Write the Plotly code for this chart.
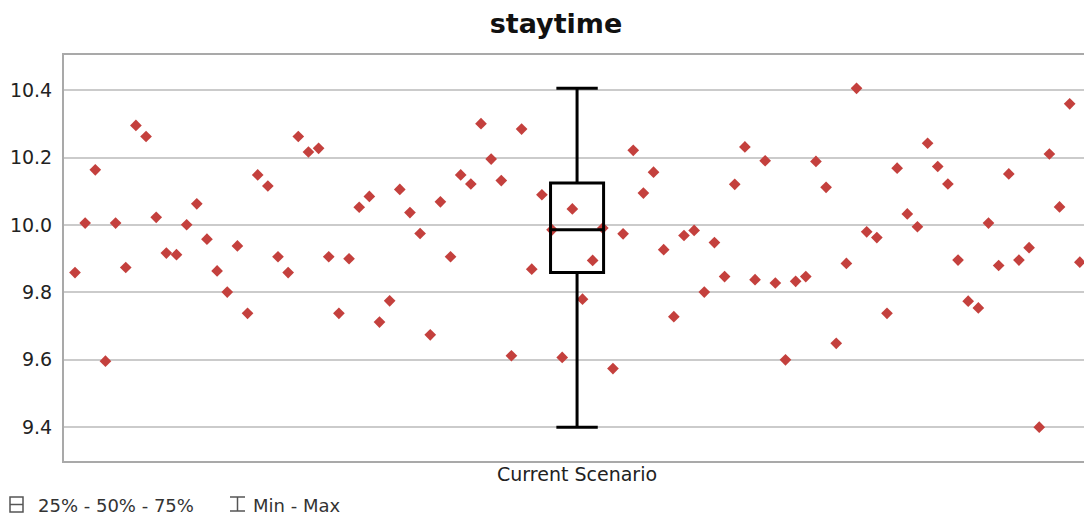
import plotly.graph_objects as go

# ---- data -------------------------------------------------------------
chart_title = "staytime"
scenario = ["Current Scenario"]

# staytime observed in each replication, in run order
staytime = [9.859, 10.006, 10.164, 9.596, 10.006, 9.874, 10.296, 10.263, 10.023, 9.917,
            9.912, 10.001, 10.063, 9.958, 9.864, 9.801, 9.938, 9.738, 10.149, 10.116,
            9.906, 9.859, 10.263, 10.217, 10.228, 9.906, 9.738, 9.900, 10.053, 10.085,
            9.712, 9.775, 10.106, 10.037, 9.975, 9.674, 10.069, 9.906, 10.149, 10.122,
            10.301, 10.196, 10.132, 9.612, 10.285, 9.869, 10.090, 9.986, 9.607, 10.048,
            9.780, 9.895, 9.991, 9.574, 9.974, 10.222, 10.095, 10.157, 9.927, 9.728,
            9.969, 9.984, 9.801, 9.948, 9.847, 10.121, 10.232, 9.838, 10.191, 9.828,
            9.600, 9.833, 9.847, 10.189, 10.112, 9.649, 9.886, 10.406, 9.980, 9.963,
            9.738, 10.169, 10.033, 9.995, 10.243, 10.174, 10.122, 9.896, 9.774, 9.754,
            10.006, 9.880, 10.152, 9.896, 9.933, 9.400, 10.211, 10.054, 10.360, 9.890]
run_index = list(range(1, len(staytime) + 1))

# box summary: 25% / 50% / 75% and min / max
box_q1 = [9.859]
box_median = [9.986]
box_q3 = [10.125]
box_min = [9.400]
box_max = [10.406]

y_ticks = [9.4, 9.6, 9.8, 10.0, 10.2, 10.4]
legend_labels = ["25% - 50% - 75%", "Min - Max"]

# ---- geometry ---------------------------------------------------------
W, H = 1084, 515
ML, MR, MT, MB = 64, 0, 55, 54
PW, PH = W - ML - MR, H - MT - MB


def px(x):
    return (x - ML) / PW


def py(y):
    return (H - MB - y) / PH


FONT = "DejaVu Sans"
FRAME = "#a9a9a9"
GRID = "#cbcbcb"

fig = go.Figure()

fig.add_trace(go.Scatter(
    x=run_index, y=staytime, mode="markers",
    marker=dict(symbol="diamond", size=9, color="#c4403d", line=dict(width=0)),
    xaxis="x", yaxis="y", hoverinfo="y", showlegend=False,
))

fig.add_trace(go.Box(
    x=scenario, q1=box_q1, median=box_median, q3=box_q3,
    lowerfence=box_min, upperfence=box_max,
    xaxis="x2", yaxis="y",
    fillcolor="rgba(0,0,0,0)", line=dict(color="black", width=3),
    width=0.052, whiskerwidth=0.78, boxpoints=False, showlegend=False,
))

fig.update_layout(
    width=W, height=H,
    margin=dict(l=ML, r=MR, t=MT, b=MB, pad=0),
    paper_bgcolor="white", plot_bgcolor="white",
    font=dict(family=FONT, color="#222222"),
    showlegend=False,
    title=dict(text="<b>%s</b>" % chart_title, font=dict(family=FONT, size=27, color="#111111"),
               x=556 / W, xanchor="center", xref="container",
               y=1 - 24 / H, yanchor="middle", yref="container"),
    xaxis=dict(range=[-0.084, 100.41], showticklabels=False, showgrid=False,
               zeroline=False, showline=True, linecolor=FRAME, linewidth=2, mirror=True,
               ticks=""),
    xaxis2=dict(overlaying="x", side="bottom", type="category", range=[-0.503, 0.497],
                showgrid=False, zeroline=False, showline=False, ticks="",
                tickfont=dict(family=FONT, size=19, color="#222222")),
    yaxis=dict(range=[9.2995, 10.505], tickvals=y_ticks, tickformat=".1f",
               showgrid=True, gridcolor=GRID, gridwidth=2, zeroline=False,
               showline=True, linecolor=FRAME, linewidth=2, mirror=False,
               ticks="", ticklabelstandoff=6,
               tickfont=dict(family=FONT, size=19, color="#222222")),
)

# legend row below the plot
ICON = "#555555"
shapes = [
    dict(type="rect", x0=px(10), x1=px(23), y0=py(497), y1=py(512)),
    dict(type="line", x0=px(10), x1=px(23), y0=py(504.5), y1=py(504.5)),
    dict(type="line", x0=px(230), x1=px(245), y0=py(497), y1=py(497)),
    dict(type="line", x0=px(230), x1=px(245), y0=py(511), y1=py(511)),
    dict(type="line", x0=px(237.5), x1=px(237.5), y0=py(497), y1=py(511)),
]
for s in shapes:
    s.update(xref="paper", yref="paper", line=dict(color=ICON, width=1.5), layer="above")
fig.update_layout(shapes=shapes)

for label, x_left in zip(legend_labels, [36, 251]):
    fig.add_annotation(text=label, x=px(x_left), y=py(505), xref="paper", yref="paper",
                       xanchor="left", yanchor="middle", showarrow=False,
                       font=dict(family=FONT, size=18, color="#333333"))

fig.write_html("out.html")
